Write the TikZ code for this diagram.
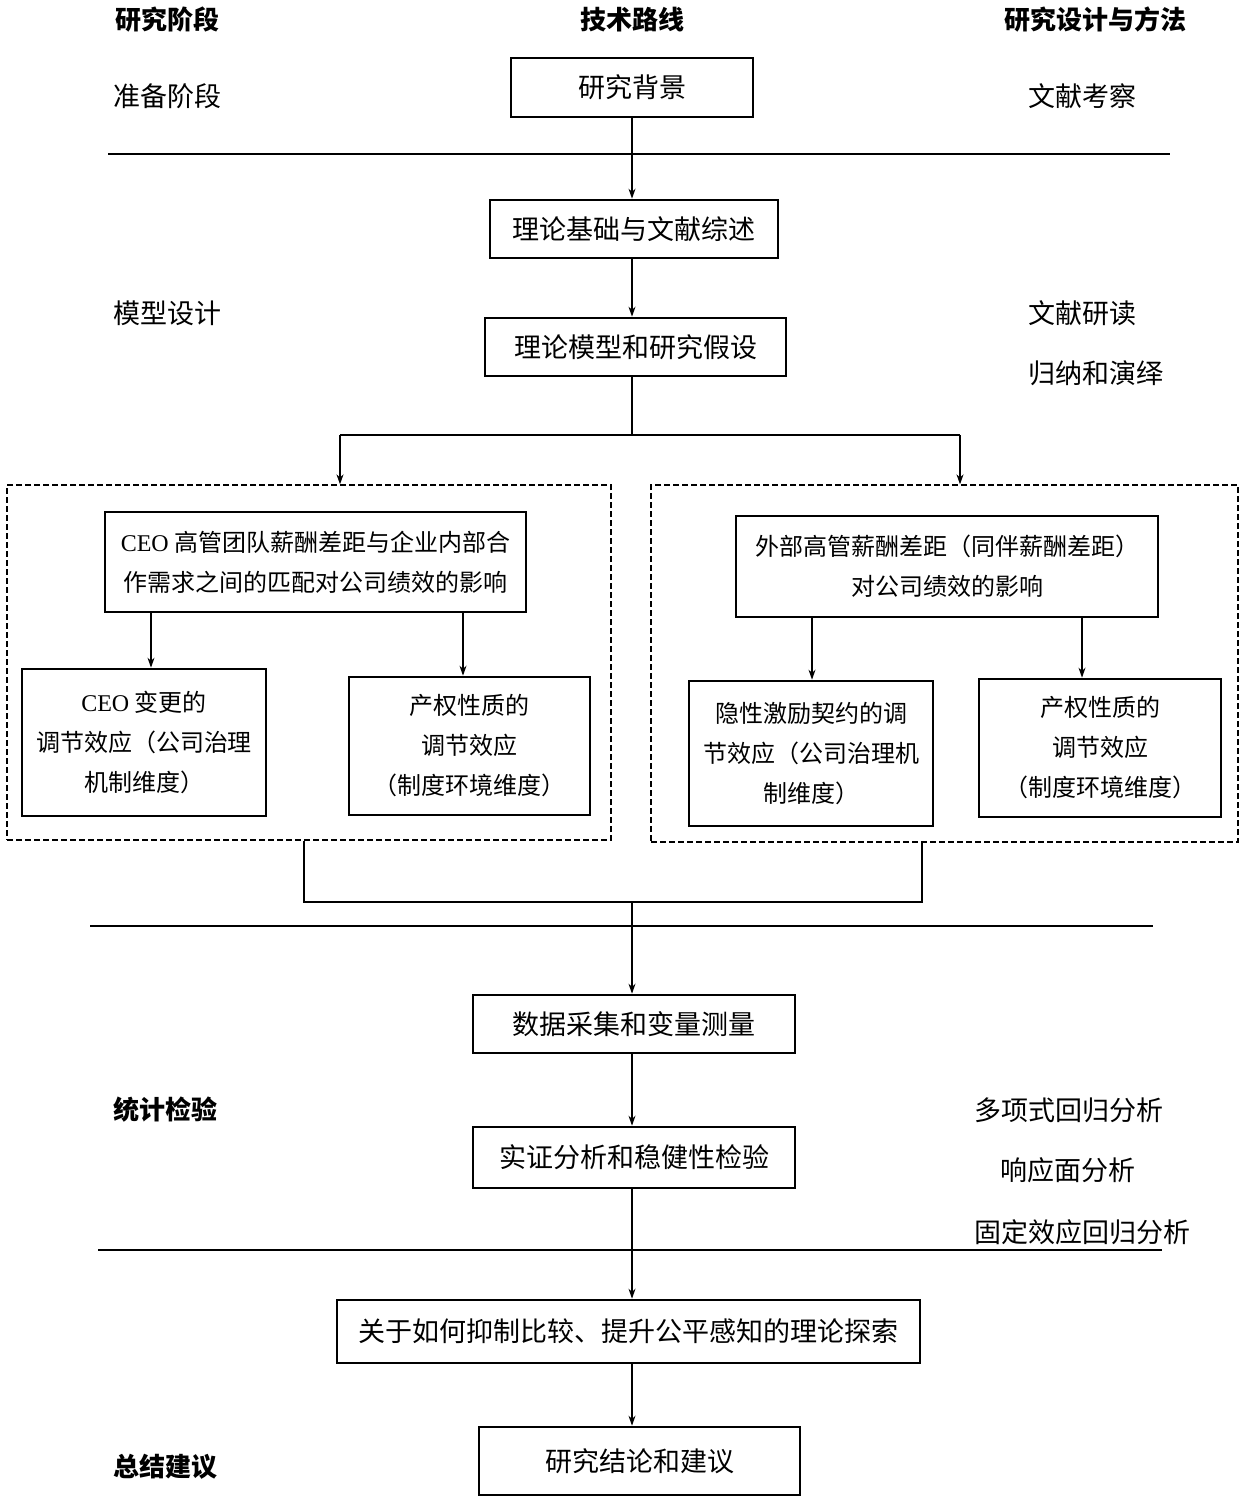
\documentclass[tikz,border=0pt]{standalone}
\usepackage{fontspec}
\setmainfont{Noto Sans CJK SC}
\newfontfamily\lat{Liberation Serif}
\usetikzlibrary{arrows.meta}
\tikzset{
  box/.style={draw, line width=2.7pt, inner sep=2pt, align=center, font=\fontsize{27}{40}\selectfont},
  ibox/.style={box, font=\fontsize{24}{40}\selectfont},
  dbox/.style={draw, dashed, line width=1.3pt, dash pattern=on 6pt off 3pt},
  arr/.style={line width=1.3pt, -{Stealth[length=10pt,width=7pt]}},
  ln/.style={line width=1.3pt},
  sep/.style={line width=1.6pt},
  lbl/.style={font=\fontsize{27}{30}\selectfont, inner sep=0pt},
  hdr/.style={font=\fontsize{26}{30}\selectfont\bfseries, inner sep=0pt}
}
\begin{document}
\begin{tikzpicture}[x=1pt,y=-1pt]
\useasboundingbox[fill=white] (0,0) rectangle (1247,1502);
% headers
\node[hdr] (h1) at (167,20) {研究阶段};
\node[hdr] (h2) at (632,20) {技术路线};
\node[hdr] (h3) at (1095,20) {研究设计与方法};
% left stage labels
\node[lbl, anchor=west] (s1) at (113,96) {准备阶段};
\node[lbl, anchor=west] (s2) at (113,313) {模型设计};
\node[hdr, anchor=west] (s3) at (113,1110) {统计检验};
\node[hdr, anchor=west] (s4) at (113,1467) {总结建议};
% right method labels
\node[lbl] (m1) at (1082,96) {文献考察};
\node[lbl] (m2) at (1082,313) {文献研读};
\node[lbl] (m3) at (1096,373) {归纳和演绎};
\node[lbl] (m4) at (1069,1110) {多项式回归分析};
\node[lbl] (m5) at (1068,1170) {响应面分析};
\node[lbl] (m6) at (1082,1232) {固定效应回归分析};
% separators
\draw[sep] (108,154) -- (1170,154);
\draw[sep] (90,926) -- (1153,926);
\draw[sep] (98,1250) -- (1162,1250);
% main boxes
\node[box, minimum width=242, minimum height=59] (bg) at (632,87.5) {研究背景};
\node[box, minimum width=288, minimum height=58] (lt) at (634,229) {理论基础与文献综述};
\node[box, minimum width=301, minimum height=58] (md) at (635.5,347) {理论模型和研究假设};
% dashed groups
\node[dbox, minimum width=604, minimum height=355] (dl) at (309,662.5) {};
\node[dbox, minimum width=587, minimum height=357] (dr) at (944.5,663.5) {};
% left group
\node[ibox, minimum width=421, minimum height=100] (ltop) at (315.5,562) {{\lat CEO} 高管团队薪酬差距与企业内部合\\作需求之间的匹配对公司绩效的影响};
\node[ibox, minimum width=244, minimum height=147] (ll) at (144,742.5) {{\lat CEO} 变更的\\调节效应（公司治理\\机制维度）};
\node[ibox, minimum width=241, minimum height=138] (lr) at (469.5,746) {产权性质的\\调节效应\\（制度环境维度）};
% right group
\node[ibox, minimum width=422, minimum height=101] (rtop) at (947,566.5) {外部高管薪酬差距（同伴薪酬差距）\\对公司绩效的影响};
\node[ibox, minimum width=244, minimum height=145] (rl) at (811,753.5) {隐性激励契约的调\\节效应（公司治理机\\制维度）};
\node[ibox, minimum width=242, minimum height=138] (rr) at (1100,748) {产权性质的\\调节效应\\（制度环境维度）};
% lower boxes
\node[box, minimum width=322, minimum height=58] (dc) at (634,1024) {数据采集和变量测量};
\node[box, minimum width=322, minimum height=61] (ea) at (634,1157.5) {实证分析和稳健性检验};
\node[box, minimum width=583, minimum height=63] (th) at (628.5,1331.5) {关于如何抑制比较、提升公平感知的理论探索};
\node[box, minimum width=321, minimum height=68] (cn) at (639.5,1461) {研究结论和建议};
% connectors
\draw[arr] (bg.south -| 632,0) -- (lt.north -| 632,0);
\draw[arr] (lt.south -| 632,0) -- (md.north -| 632,0);
\coordinate (sp) at (632,435);
\coordinate (sl) at (340,435);
\coordinate (sr) at (960,435);
\draw[ln] (md.south -| sp) -- (sp);
\draw[ln] (sl) -- (sr);
\draw[arr] (sl) -- (sl |- dl.north);
\draw[arr] (sr) -- (sr |- dr.north);
\draw[arr] (ltop.south -| 151,0) -- (ll.north -| 151,0);
\draw[arr] (ltop.south -| 463,0) -- (lr.north -| 463,0);
\draw[arr] (rtop.south -| 812,0) -- (rl.north -| 812,0);
\draw[arr] (rtop.south -| 1082,0) -- (rr.north -| 1082,0);
\coordinate (mg) at (632,902);
\draw[ln] (dl.south -| 304,0) -- (304,902) -- (922,902) -- (dr.south -| 922,0);
\draw[arr] (mg) -- (dc.north -| mg);
\draw[arr] (dc.south -| mg) -- (ea.north -| mg);
\draw[arr] (ea.south -| mg) -- (th.north -| mg);
\draw[arr] (th.south -| mg) -- (cn.north -| mg);
\end{tikzpicture}
\end{document}
